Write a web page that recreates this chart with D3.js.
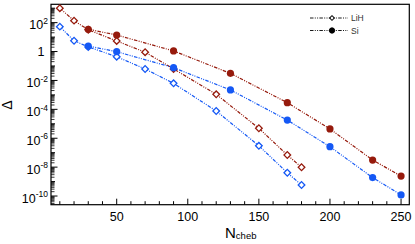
<!DOCTYPE html>
<html>
<head>
<meta charset="utf-8">
<script src="https://cdn.jsdelivr.net/npm/d3@7"></script>
<style>
  body { margin: 0; background: #fff; }
  text { font-family: "Liberation Sans", Arial, sans-serif; }
</style>
</head>
<body>
<script>
var w = 415;
var h = 244;

// data
var lihN = [10, 20, 30, 50, 70, 90, 120, 150, 170, 180];
var lihRed = [1000, 138, 32, 5.4, 0.9, 0.063, 1.1e-3, 4.9e-6, 6.9e-8, 9.8e-9];
var lihBlue = [53, 5.6, 2.1, 0.44, 0.062, 6.3e-3, 7.7e-5, 3e-7, 4.1e-9, 5.8e-10];
var siN = [30, 50, 90, 130, 170, 200, 230, 250];
var siRed = [35, 14, 1.1, 0.031, 2.9e-4, 4.4e-6, 3.1e-8, 2.4e-9];
var siBlue = [2.4, 0.98, 0.076, 2.2e-3, 1.8e-5, 2.6e-7, 1.9e-9, 1.2e-10];
var xTicks = [50, 100, 150, 200, 250];
var yTickExp = [2, 0, -2, -4, -6, -8, -10];
var legendNames = ["LiH", "Si"];

var red = "#961a0c";
var blue = "#1458f5";
var dash = "3.5,1.3,1,1.3,1,1.3";

var pL = 51, pR = 409.3, pT = 4.3, pB = 204.7;

var x = d3.scaleLinear().domain([3.8, 255.8]).range([pL, pR]);
var y = d3.scaleLog().domain([Math.pow(10, -10.6), Math.pow(10, 3.27)]).range([pB, pT]);

var svg = d3.select("body").append("svg")
  .attr("width", w)
  .attr("height", h);

// x ticks (inside)
var xMinor = d3.range(10, 256, 10);
svg.selectAll("line.xt")
  .data(xMinor)
  .enter().append("line")
  .attr("x1", function(d){ return x(d); })
  .attr("x2", function(d){ return x(d); })
  .attr("y1", pB)
  .attr("y2", function(d){ return d % 50 === 0 ? pB - 6 : pB - 3.5; })
  .attr("stroke", "#000")
  .attr("stroke-width", 1);

svg.selectAll("text.xl")
  .data(xTicks)
  .enter().append("text")
  .attr("x", function(d){ return x(d); })
  .attr("y", 220.7)
  .attr("text-anchor", "middle")
  .attr("font-size", "12.5px")
  .text(function(d){ return d; });

// y ticks (inside)
var yMajor = d3.range(-10, 4);
var yMinor = [];
for (var e = -11; e < 4; e++) {
  for (var k = 2; k < 10; k++) {
    var v = k * Math.pow(10, e);
    if (v > y.domain()[0] && v < y.domain()[1]) yMinor.push(v);
  }
}
svg.selectAll("line.ym")
  .data(yMinor)
  .enter().append("line")
  .attr("x1", pL)
  .attr("x2", pL + 3.5)
  .attr("y1", function(d){ return y(d); })
  .attr("y2", function(d){ return y(d); })
  .attr("stroke", "#000")
  .attr("stroke-width", 0.8);

svg.selectAll("line.yM")
  .data(yMajor)
  .enter().append("line")
  .attr("x1", pL)
  .attr("x2", function(d){ return d % 2 === 0 ? pL + 6.5 : pL + 4; })
  .attr("y1", function(d){ return y(Math.pow(10, d)); })
  .attr("y2", function(d){ return y(Math.pow(10, d)); })
  .attr("stroke", "#000")
  .attr("stroke-width", 1);

var yl = svg.selectAll("text.yl")
  .data(yTickExp)
  .enter().append("text")
  .attr("x", 48)
  .attr("y", function(d){ return y(Math.pow(10, d)) + (d === 0 ? 4.3 : 6.7); })
  .attr("text-anchor", "end")
  .attr("font-size", "12.5px");
yl.each(function(d){
  var t = d3.select(this);
  if (d === 0) {
    t.attr("x", 44.5).text("1");
  } else {
    t.append("tspan").text("10");
    t.append("tspan").attr("dy", -5.5).attr("font-size", "8.5px").text(d);
  }
});

// frame
svg.append("rect")
  .attr("x", pL)
  .attr("y", pT)
  .attr("width", pR - pL)
  .attr("height", pB - pT)
  .attr("fill", "none")
  .attr("stroke", "#000")
  .attr("stroke-width", 1.2);

// axis titles
svg.append("text")
  .attr("transform", "translate(12,105) rotate(-90)")
  .attr("text-anchor", "middle")
  .attr("font-size", "14px")
  .text("\u0394");

var xt = svg.append("text")
  .attr("x", 225)
  .attr("y", 237.7)
  .attr("font-size", "15px");
xt.append("tspan").text("N");
xt.append("tspan").attr("dy", 1.6).attr("font-size", "9.5px").text("cheb");

// series
var line = d3.line()
  .x(function(d){ return x(d[0]); })
  .y(function(d){ return y(d[1]); });

var diamond = d3.symbol().type(d3.symbolSquare).size(22);

function drawLiH(vals, color) {
  var pts = d3.zip(lihN, vals);
  svg.append("path")
    .datum(pts)
    .attr("d", line)
    .attr("fill", "none")
    .attr("stroke", color)
    .attr("stroke-width", 1.2)
    .attr("stroke-dasharray", dash);
  svg.selectAll(null)
    .data(pts)
    .enter().append("path")
    .attr("d", diamond)
    .attr("transform", function(d){ return "translate(" + x(d[0]) + "," + y(d[1]) + ") rotate(45)"; })
    .attr("fill", "#fff")
    .attr("stroke", color)
    .attr("stroke-width", 1.3);
}

function drawSi(vals, color) {
  var pts = d3.zip(siN, vals);
  svg.append("path")
    .datum(pts)
    .attr("d", line)
    .attr("fill", "none")
    .attr("stroke", color)
    .attr("stroke-width", 1.2)
    .attr("stroke-dasharray", dash);
  svg.selectAll(null)
    .data(pts)
    .enter().append("circle")
    .attr("cx", function(d){ return x(d[0]); })
    .attr("cy", function(d){ return y(d[1]); })
    .attr("r", 3.6)
    .attr("fill", color);
}

drawLiH(lihRed, red);
drawLiH(lihBlue, blue);
drawSi(siRed, red);
drawSi(siBlue, blue);

// legend
var lg = svg.selectAll("g.lg")
  .data(legendNames)
  .enter().append("g")
  .attr("transform", function(d, i){ return "translate(0," + (18 + i * 12.5) + ")"; });

lg.append("line")
  .attr("x1", 310)
  .attr("x2", 348)
  .attr("stroke", "#000")
  .attr("stroke-width", 0.9)
  .attr("stroke-dasharray", dash);

lg.append("path")
  .attr("d", function(d){
    return d === "LiH" ? d3.symbol().type(d3.symbolSquare).size(11)()
                       : d3.symbol().type(d3.symbolCircle).size(22)();
  })
  .attr("transform", function(d){ return "translate(332,0)" + (d === "LiH" ? " rotate(45)" : ""); })
  .attr("fill", function(d){ return d === "LiH" ? "#fff" : "#000"; })
  .attr("stroke", "#000")
  .attr("stroke-width", 1);

lg.append("text")
  .attr("x", 351)
  .attr("y", 3)
  .attr("font-size", "8.5px")
  .attr("fill", "#333")
  .text(function(d){ return d; });
</script>
</body>
</html>
